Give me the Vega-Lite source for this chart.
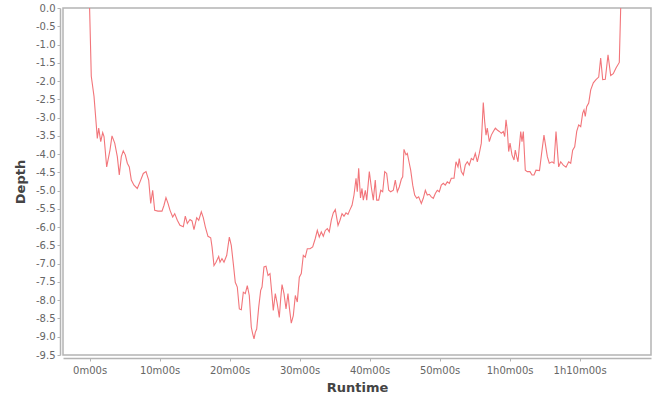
{
  "$schema": "https://vega.github.io/schema/vega-lite/v6.json",
  "autosize": {"type": "none"},
  "padding": {"left": 63, "top": 8, "right": 9, "bottom": 45},
  "width": 588,
  "height": 347,
  "background": "white",
  "config": {
    "view": {"stroke": "#b4b4b4", "strokeWidth": 1.5},
    "axis": {
      "grid": false,
      "domainColor": "#b4b4b4",
      "domainWidth": 1.5,
      "tickColor": "#b4b4b4",
      "tickSize": 3,
      "labelFont": "DejaVu Sans",
      "labelFontSize": 10,
      "labelColor": "#666666",
      "titleFont": "DejaVu Sans",
      "titleFontSize": 13,
      "titleFontWeight": "bold",
      "titleColor": "#444444"
    }
  },
  "data": {
    "values": [
      {"t": 0.0, "depth": 0.0},
      {"t": 0.24, "depth": -1.87},
      {"t": 0.63, "depth": -2.42},
      {"t": 1.01, "depth": -3.34},
      {"t": 1.10, "depth": -3.57},
      {"t": 1.30, "depth": -3.29},
      {"t": 1.59, "depth": -3.66},
      {"t": 1.87, "depth": -3.41},
      {"t": 2.06, "depth": -3.52},
      {"t": 2.44, "depth": -4.35},
      {"t": 2.91, "depth": -3.89},
      {"t": 3.20, "depth": -3.50},
      {"t": 3.59, "depth": -3.70},
      {"t": 3.96, "depth": -4.07},
      {"t": 4.24, "depth": -4.57},
      {"t": 4.53, "depth": -4.07},
      {"t": 4.81, "depth": -3.91},
      {"t": 5.10, "depth": -4.02},
      {"t": 5.39, "depth": -4.25},
      {"t": 5.67, "depth": -4.35},
      {"t": 5.96, "depth": -4.71},
      {"t": 6.34, "depth": -4.85},
      {"t": 6.81, "depth": -4.94},
      {"t": 7.20, "depth": -4.76},
      {"t": 7.67, "depth": -4.53},
      {"t": 8.06, "depth": -4.48},
      {"t": 8.44, "depth": -4.71},
      {"t": 8.73, "depth": -5.35},
      {"t": 9.01, "depth": -4.99},
      {"t": 9.30, "depth": -5.54},
      {"t": 9.77, "depth": -5.56},
      {"t": 10.34, "depth": -5.56},
      {"t": 10.63, "depth": -5.40},
      {"t": 10.91, "depth": -5.19},
      {"t": 11.20, "depth": -5.35},
      {"t": 11.49, "depth": -5.54},
      {"t": 11.87, "depth": -5.72},
      {"t": 12.16, "depth": -5.63},
      {"t": 12.53, "depth": -5.81},
      {"t": 12.91, "depth": -5.95},
      {"t": 13.39, "depth": -5.99},
      {"t": 13.67, "depth": -5.70},
      {"t": 13.96, "depth": -5.90},
      {"t": 14.34, "depth": -5.79},
      {"t": 14.63, "depth": -5.83},
      {"t": 14.91, "depth": -6.07},
      {"t": 15.30, "depth": -5.74},
      {"t": 15.59, "depth": -5.81},
      {"t": 15.96, "depth": -5.58},
      {"t": 16.24, "depth": -5.74},
      {"t": 16.53, "depth": -5.99},
      {"t": 16.91, "depth": -6.25},
      {"t": 17.30, "depth": -6.29},
      {"t": 17.49, "depth": -6.54},
      {"t": 17.77, "depth": -7.05},
      {"t": 18.06, "depth": -6.96},
      {"t": 18.44, "depth": -6.80},
      {"t": 18.63, "depth": -6.96},
      {"t": 18.91, "depth": -6.86},
      {"t": 19.20, "depth": -6.96},
      {"t": 19.59, "depth": -6.77},
      {"t": 19.96, "depth": -6.27},
      {"t": 20.24, "depth": -6.50},
      {"t": 20.53, "depth": -7.00},
      {"t": 20.81, "depth": -7.51},
      {"t": 21.10, "depth": -7.64},
      {"t": 21.39, "depth": -8.24},
      {"t": 21.67, "depth": -8.26},
      {"t": 21.96, "depth": -7.78},
      {"t": 22.24, "depth": -7.82},
      {"t": 22.53, "depth": -7.60},
      {"t": 22.81, "depth": -7.87},
      {"t": 23.10, "depth": -8.74},
      {"t": 23.30, "depth": -8.92},
      {"t": 23.49, "depth": -9.06},
      {"t": 23.67, "depth": -8.88},
      {"t": 23.87, "depth": -8.79},
      {"t": 24.16, "depth": -8.19},
      {"t": 24.44, "depth": -7.73},
      {"t": 24.63, "depth": -7.64},
      {"t": 24.91, "depth": -7.09},
      {"t": 25.20, "depth": -7.07},
      {"t": 25.49, "depth": -7.32},
      {"t": 25.77, "depth": -7.27},
      {"t": 26.06, "depth": -7.87},
      {"t": 26.24, "depth": -8.28},
      {"t": 26.53, "depth": -7.82},
      {"t": 26.81, "depth": -8.10},
      {"t": 27.10, "depth": -8.47},
      {"t": 27.30, "depth": -7.96},
      {"t": 27.49, "depth": -7.57},
      {"t": 27.77, "depth": -7.82},
      {"t": 28.06, "depth": -8.24},
      {"t": 28.34, "depth": -7.82},
      {"t": 28.53, "depth": -8.19},
      {"t": 28.81, "depth": -8.63},
      {"t": 29.10, "depth": -8.42},
      {"t": 29.39, "depth": -7.87},
      {"t": 29.67, "depth": -8.05},
      {"t": 29.96, "depth": -7.37},
      {"t": 30.24, "depth": -7.27},
      {"t": 30.53, "depth": -6.77},
      {"t": 30.81, "depth": -6.82},
      {"t": 31.10, "depth": -6.59},
      {"t": 31.49, "depth": -6.59},
      {"t": 31.87, "depth": -6.54},
      {"t": 32.24, "depth": -6.31},
      {"t": 32.53, "depth": -6.09},
      {"t": 32.81, "depth": -6.27},
      {"t": 33.10, "depth": -6.13},
      {"t": 33.39, "depth": -6.25},
      {"t": 33.67, "depth": -6.09},
      {"t": 33.96, "depth": -6.04},
      {"t": 34.24, "depth": -6.13},
      {"t": 34.53, "depth": -5.81},
      {"t": 34.81, "depth": -5.61},
      {"t": 35.10, "depth": -5.52},
      {"t": 35.49, "depth": -5.95},
      {"t": 35.77, "depth": -5.81},
      {"t": 36.06, "depth": -5.63},
      {"t": 36.34, "depth": -5.70},
      {"t": 36.63, "depth": -5.61},
      {"t": 36.91, "depth": -5.65},
      {"t": 37.20, "depth": -5.52},
      {"t": 37.49, "depth": -5.40},
      {"t": 37.77, "depth": -5.12},
      {"t": 38.06, "depth": -4.66},
      {"t": 38.24, "depth": -5.03},
      {"t": 38.44, "depth": -4.39},
      {"t": 38.70, "depth": -5.20},
      {"t": 38.91, "depth": -4.94},
      {"t": 39.10, "depth": -5.26},
      {"t": 39.39, "depth": -4.99},
      {"t": 39.59, "depth": -5.26},
      {"t": 39.96, "depth": -4.48},
      {"t": 40.24, "depth": -4.90},
      {"t": 40.53, "depth": -5.26},
      {"t": 40.81, "depth": -4.71},
      {"t": 41.01, "depth": -5.26},
      {"t": 41.30, "depth": -5.26},
      {"t": 41.59, "depth": -4.99},
      {"t": 41.87, "depth": -5.03},
      {"t": 42.16, "depth": -4.48},
      {"t": 42.44, "depth": -4.53},
      {"t": 42.73, "depth": -4.99},
      {"t": 43.01, "depth": -5.03},
      {"t": 43.39, "depth": -4.99},
      {"t": 43.67, "depth": -4.71},
      {"t": 43.96, "depth": -5.03},
      {"t": 44.24, "depth": -4.90},
      {"t": 44.53, "depth": -4.69},
      {"t": 44.73, "depth": -4.62},
      {"t": 44.91, "depth": -3.87},
      {"t": 45.20, "depth": -4.02},
      {"t": 45.39, "depth": -3.98},
      {"t": 45.67, "depth": -4.25},
      {"t": 45.87, "depth": -4.44},
      {"t": 46.16, "depth": -4.85},
      {"t": 46.44, "depth": -5.12},
      {"t": 46.73, "depth": -5.21},
      {"t": 47.01, "depth": -5.17},
      {"t": 47.39, "depth": -5.35},
      {"t": 47.67, "depth": -5.21},
      {"t": 47.96, "depth": -4.99},
      {"t": 48.24, "depth": -5.12},
      {"t": 48.53, "depth": -5.10},
      {"t": 48.81, "depth": -5.17},
      {"t": 49.10, "depth": -5.21},
      {"t": 49.39, "depth": -5.08},
      {"t": 49.67, "depth": -4.99},
      {"t": 49.96, "depth": -5.03},
      {"t": 50.24, "depth": -4.85},
      {"t": 50.53, "depth": -4.80},
      {"t": 50.81, "depth": -4.85},
      {"t": 51.10, "depth": -4.76},
      {"t": 51.39, "depth": -4.80},
      {"t": 51.67, "depth": -4.66},
      {"t": 52.06, "depth": -4.66},
      {"t": 52.34, "depth": -4.21},
      {"t": 52.63, "depth": -4.35},
      {"t": 52.81, "depth": -4.12},
      {"t": 53.10, "depth": -4.48},
      {"t": 53.39, "depth": -4.57},
      {"t": 53.67, "depth": -4.30},
      {"t": 53.96, "depth": -4.21},
      {"t": 54.24, "depth": -4.30},
      {"t": 54.53, "depth": -4.12},
      {"t": 54.81, "depth": -4.16},
      {"t": 55.10, "depth": -3.98},
      {"t": 55.39, "depth": -4.21},
      {"t": 55.67, "depth": -3.98},
      {"t": 55.96, "depth": -3.70},
      {"t": 56.24, "depth": -2.59},
      {"t": 56.44, "depth": -3.11},
      {"t": 56.63, "depth": -3.48},
      {"t": 56.81, "depth": -3.29},
      {"t": 57.10, "depth": -3.66},
      {"t": 57.39, "depth": -3.48},
      {"t": 57.67, "depth": -3.38},
      {"t": 57.96, "depth": -3.29},
      {"t": 58.24, "depth": -3.34},
      {"t": 58.53, "depth": -3.38},
      {"t": 58.81, "depth": -3.43},
      {"t": 59.10, "depth": -3.38},
      {"t": 59.30, "depth": -3.52},
      {"t": 59.49, "depth": -3.06},
      {"t": 59.67, "depth": -3.34},
      {"t": 59.87, "depth": -3.93},
      {"t": 60.06, "depth": -3.70},
      {"t": 60.34, "depth": -4.02},
      {"t": 60.63, "depth": -4.16},
      {"t": 60.81, "depth": -3.89},
      {"t": 61.01, "depth": -4.07},
      {"t": 61.20, "depth": -4.21},
      {"t": 61.39, "depth": -3.80},
      {"t": 61.59, "depth": -3.38},
      {"t": 61.77, "depth": -3.66},
      {"t": 61.96, "depth": -3.38},
      {"t": 62.24, "depth": -4.44},
      {"t": 62.53, "depth": -4.48},
      {"t": 62.91, "depth": -4.48},
      {"t": 63.20, "depth": -4.57},
      {"t": 63.49, "depth": -4.57},
      {"t": 63.77, "depth": -4.44},
      {"t": 64.27, "depth": -4.45},
      {"t": 64.56, "depth": -4.00},
      {"t": 64.91, "depth": -3.48},
      {"t": 65.39, "depth": -4.07},
      {"t": 65.67, "depth": -4.25},
      {"t": 66.06, "depth": -4.21},
      {"t": 66.34, "depth": -4.25},
      {"t": 66.63, "depth": -3.38},
      {"t": 67.01, "depth": -4.35},
      {"t": 67.30, "depth": -4.21},
      {"t": 67.67, "depth": -4.30},
      {"t": 68.06, "depth": -4.36},
      {"t": 68.44, "depth": -4.21},
      {"t": 68.73, "depth": -4.25},
      {"t": 69.01, "depth": -3.89},
      {"t": 69.30, "depth": -3.80},
      {"t": 69.59, "depth": -3.38},
      {"t": 69.87, "depth": -3.20},
      {"t": 70.16, "depth": -3.25},
      {"t": 70.44, "depth": -2.88},
      {"t": 70.63, "depth": -2.79},
      {"t": 70.81, "depth": -2.97},
      {"t": 71.01, "depth": -2.70},
      {"t": 71.30, "depth": -2.60},
      {"t": 71.59, "depth": -2.24},
      {"t": 71.96, "depth": -2.05},
      {"t": 72.34, "depth": -1.96},
      {"t": 72.73, "depth": -1.89},
      {"t": 73.01, "depth": -1.37},
      {"t": 73.30, "depth": -1.96},
      {"t": 73.67, "depth": -1.95},
      {"t": 74.06, "depth": -1.28},
      {"t": 74.44, "depth": -1.85},
      {"t": 74.81, "depth": -1.80},
      {"t": 75.20, "depth": -1.64},
      {"t": 75.67, "depth": -1.49},
      {"t": 75.87, "depth": 0.0}
    ]
  },
  "mark": {"type": "line", "color": "#f2757a", "strokeWidth": 1.1, "interpolate": "linear", "clip": true},
  "encoding": {
    "x": {
      "field": "t",
      "type": "quantitative",
      "title": "Runtime",
      "scale": {"domain": [-3.8, 80.2], "nice": false, "zero": false},
      "axis": {
        "values": [0, 10, 20, 30, 40, 50, 60, 70],
        "offset": 3,
        "labelPadding": 4,
        "titlePadding": 6,
        "labelExpr": "datum.value >= 60 ? floor(datum.value / 60) + 'h' + (datum.value % 60) + 'm00s' : datum.value + 'm00s'"
      }
    },
    "y": {
      "field": "depth",
      "type": "quantitative",
      "title": "Depth",
      "scale": {"domain": [-9.5, 0], "nice": false, "zero": false},
      "axis": {
        "values": [0, -0.5, -1, -1.5, -2, -2.5, -3, -3.5, -4, -4.5, -5, -5.5, -6, -6.5, -7, -7.5, -8, -8.5, -9, -9.5],
        "offset": 3,
        "labelPadding": 2,
        "titlePadding": 8,
        "labelExpr": "replace(format(datum.value, '.1f'), '\u2212', '-')"
      }
    }
  }
}
